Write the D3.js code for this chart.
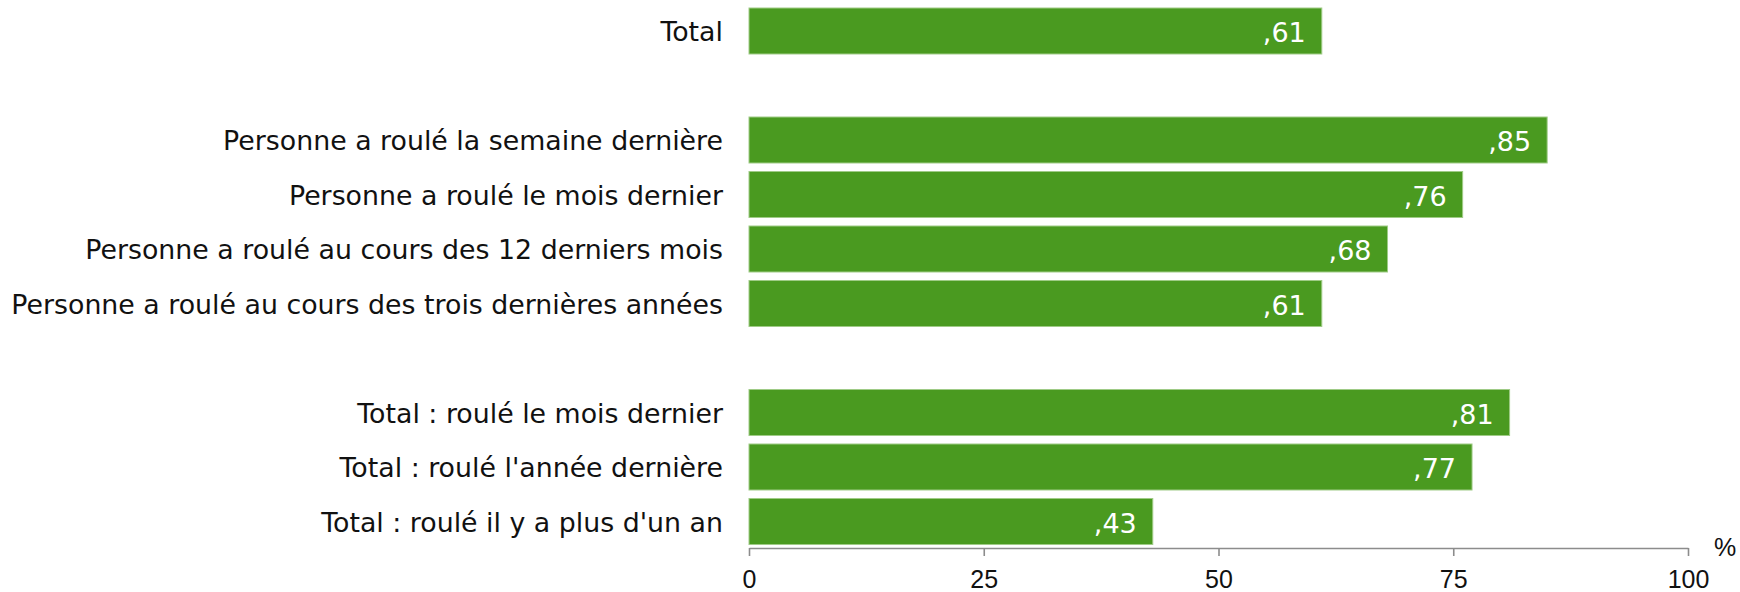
<!DOCTYPE html>
<html>
<head>
<meta charset="utf-8">
<script src="https://cdn.jsdelivr.net/npm/d3@7"></script>
<style>
  html, body { margin: 0; padding: 0; background: #ffffff; }
  svg { display: block; }
</style>
</head>
<body>
<div id="chart"></div>
<script>
// ---- data ----
const categories = [
  "Total",
  null,
  "Personne a roulé la semaine dernière",
  "Personne a roulé le mois dernier",
  "Personne a roulé au cours des 12 derniers mois",
  "Personne a roulé au cours des trois dernières années",
  null,
  "Total : roulé le mois dernier",
  "Total : roulé l'année dernière",
  "Total : roulé il y a plus d'un an"
];
const values = [61, null, 85, 76, 68, 61, null, 81, 77, 43];
const xTicks = [0, 25, 50, 75, 100];
const unitLabel = "%";

// ---- layout ----
const W = 1740, H = 592;
const svg = d3.select("#chart").append("svg").attr("width", W).attr("height", H);

const x = d3.scaleLinear().domain([0, 100]).range([749, 1688]);
const y = d3.scaleBand()
  .domain(d3.range(categories.length))
  .range([3.75, 548.75])
  .paddingInner(0.156)
  .paddingOuter(0.078);

const rows = categories.map((c, i) => ({ label: c, value: values[i], i }))
  .filter(d => d.label !== null);

// bars
svg.append("g").selectAll("rect").data(rows).join("rect")
  .attr("x", x(0))
  .attr("y", d => y(d.i))
  .attr("width", d => x(d.value) - x(0))
  .attr("height", y.bandwidth())
  .attr("fill", "#4a9a20")
  .attr("stroke", "#9fcb86")
  .attr("stroke-width", 1);

// category labels
svg.append("g").selectAll("text").data(rows).join("text")
  .attr("x", 723)
  .attr("y", d => y(d.i) + y.bandwidth() / 2 + 10)
  .attr("text-anchor", "end")
  .attr("font-family", "'DejaVu Sans', Verdana, sans-serif")
  .attr("font-size", 26.8)
  .attr("fill", "#111")
  .text(d => d.label);

// value labels
const fmt = v => "," + d3.format("02d")(v);
svg.append("g").selectAll("text").data(rows).join("text")
  .attr("x", d => x(d.value) - 16)
  .attr("y", d => y(d.i) + y.bandwidth() / 2 + 11)
  .attr("text-anchor", "end")
  .attr("font-family", "'DejaVu Sans', Verdana, sans-serif")
  .attr("font-size", 27)
  .attr("fill", "#ffffff")
  .text(d => fmt(d.value));

// x axis
const axisY = 548;
const axis = d3.axisBottom(x).tickValues(xTicks).tickSize(8).tickSizeOuter(0).tickPadding(14);
const gA = svg.append("g").attr("transform", `translate(0,${axisY})`).call(axis);
gA.select(".domain").attr("stroke", "#8c8c8c").attr("stroke-width", 1.6);
gA.selectAll(".tick line").attr("stroke", "#8c8c8c").attr("stroke-width", 1.6);
gA.selectAll(".tick text")
  .attr("font-family", "'Liberation Sans', Arial, sans-serif")
  .attr("font-size", 25)
  .attr("fill", "#111");

svg.append("text")
  .attr("x", 1714)
  .attr("y", 556)
  .attr("font-family", "'Liberation Sans', Arial, sans-serif")
  .attr("font-size", 25)
  .attr("fill", "#111")
  .text(unitLabel);
</script>
</body>
</html>
